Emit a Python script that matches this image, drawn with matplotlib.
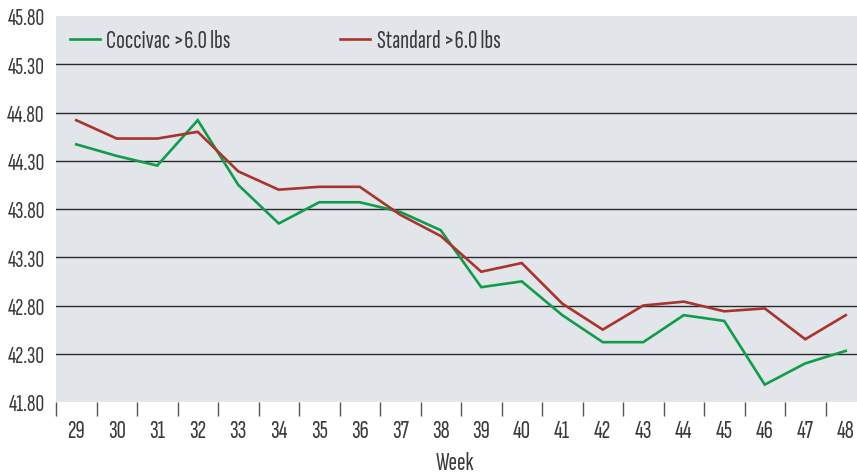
import matplotlib
matplotlib.use("Agg")
import matplotlib.pyplot as plt
from matplotlib.lines import Line2D

weeks = [29, 30, 31, 32, 33, 34, 35, 36, 37, 38, 39, 40, 41, 42, 43, 44, 45, 46, 47, 48]
coccivac = [44.47, 44.35, 44.25, 44.72, 44.05, 43.65, 43.87, 43.87, 43.77, 43.58,
            42.99, 43.05, 42.70, 42.42, 42.42, 42.70, 42.64, 41.98, 42.20, 42.33]
standard = [44.72, 44.53, 44.53, 44.60, 44.19, 44.00, 44.03, 44.03, 43.74, 43.52,
            43.15, 43.24, 42.82, 42.55, 42.80, 42.84, 42.74, 42.77, 42.45, 42.70]
yticks = [41.80, 42.30, 42.80, 43.30, 43.80, 44.30, 44.80, 45.30, 45.80]
series_names = ["Coccivac >6.0 lbs", "Standard >6.0 lbs"]
x_label = "Week"

plt.rcParams['font.family'] = ['Sofia Sans Extra Condensed', 'DejaVu Sans']

txt = "#3a3a3a"
green = "#109d4a"
red = "#a8342d"
fs = 18.5
fsy = 17.5

fig = plt.figure(figsize=(8.57, 4.77), dpi=100)
ax = fig.add_axes([56/857, 74/477, 810/857, 386/477])
ax.set_facecolor("#e2e5ea")
for s in ax.spines.values():
    s.set_visible(False)

x = list(range(len(weeks)))
ax.plot(x, coccivac, color=green, lw=1.9, solid_joinstyle='miter', zorder=3)
ax.plot(x, standard, color=red, lw=1.9, solid_joinstyle='miter', zorder=3)

ax.set_xlim(-0.5, len(weeks) - 0.5)
ax.set_ylim(41.80, 45.80)
ax.set_yticks(yticks)
ax.set_yticklabels([f"{v:.2f}" for v in yticks])
for v in yticks[1:-1]:
    ax.axhline(v, color="#2a2a2a", lw=1.0, zorder=1)

ax.set_xticks([i - 0.5 for i in range(len(weeks) + 1)])
ax.set_xticklabels([])
ax.set_xticks(x, minor=True)
ax.set_xticklabels([str(w) for w in weeks], minor=True)
ax.tick_params(axis='x', which='major', direction='out', length=10, width=1, color="#555555")
ax.tick_params(axis='x', which='minor', length=0, pad=12, labelsize=fs, labelcolor=txt)
ax.tick_params(axis='y', length=0, pad=8, labelsize=fsy, labelcolor=txt)

ax.set_xlabel(x_label, fontsize=fs, color=txt)
ax.xaxis.set_label_coords((455 - 56) / 810, -0.128)

handles = [Line2D([], [], color=green, lw=1.9), Line2D([], [], color=red, lw=1.9)]
leg = ax.legend(handles, series_names, loc='center left', bbox_to_anchor=(14/810, 1 - 25/386),
                ncol=2, frameon=False, fontsize=fs, labelcolor=txt,
                handlelength=1.15, handletextpad=0.27, columnspacing=4.25,
                borderaxespad=0, borderpad=0)

fig.savefig("out.png", dpi=100)
